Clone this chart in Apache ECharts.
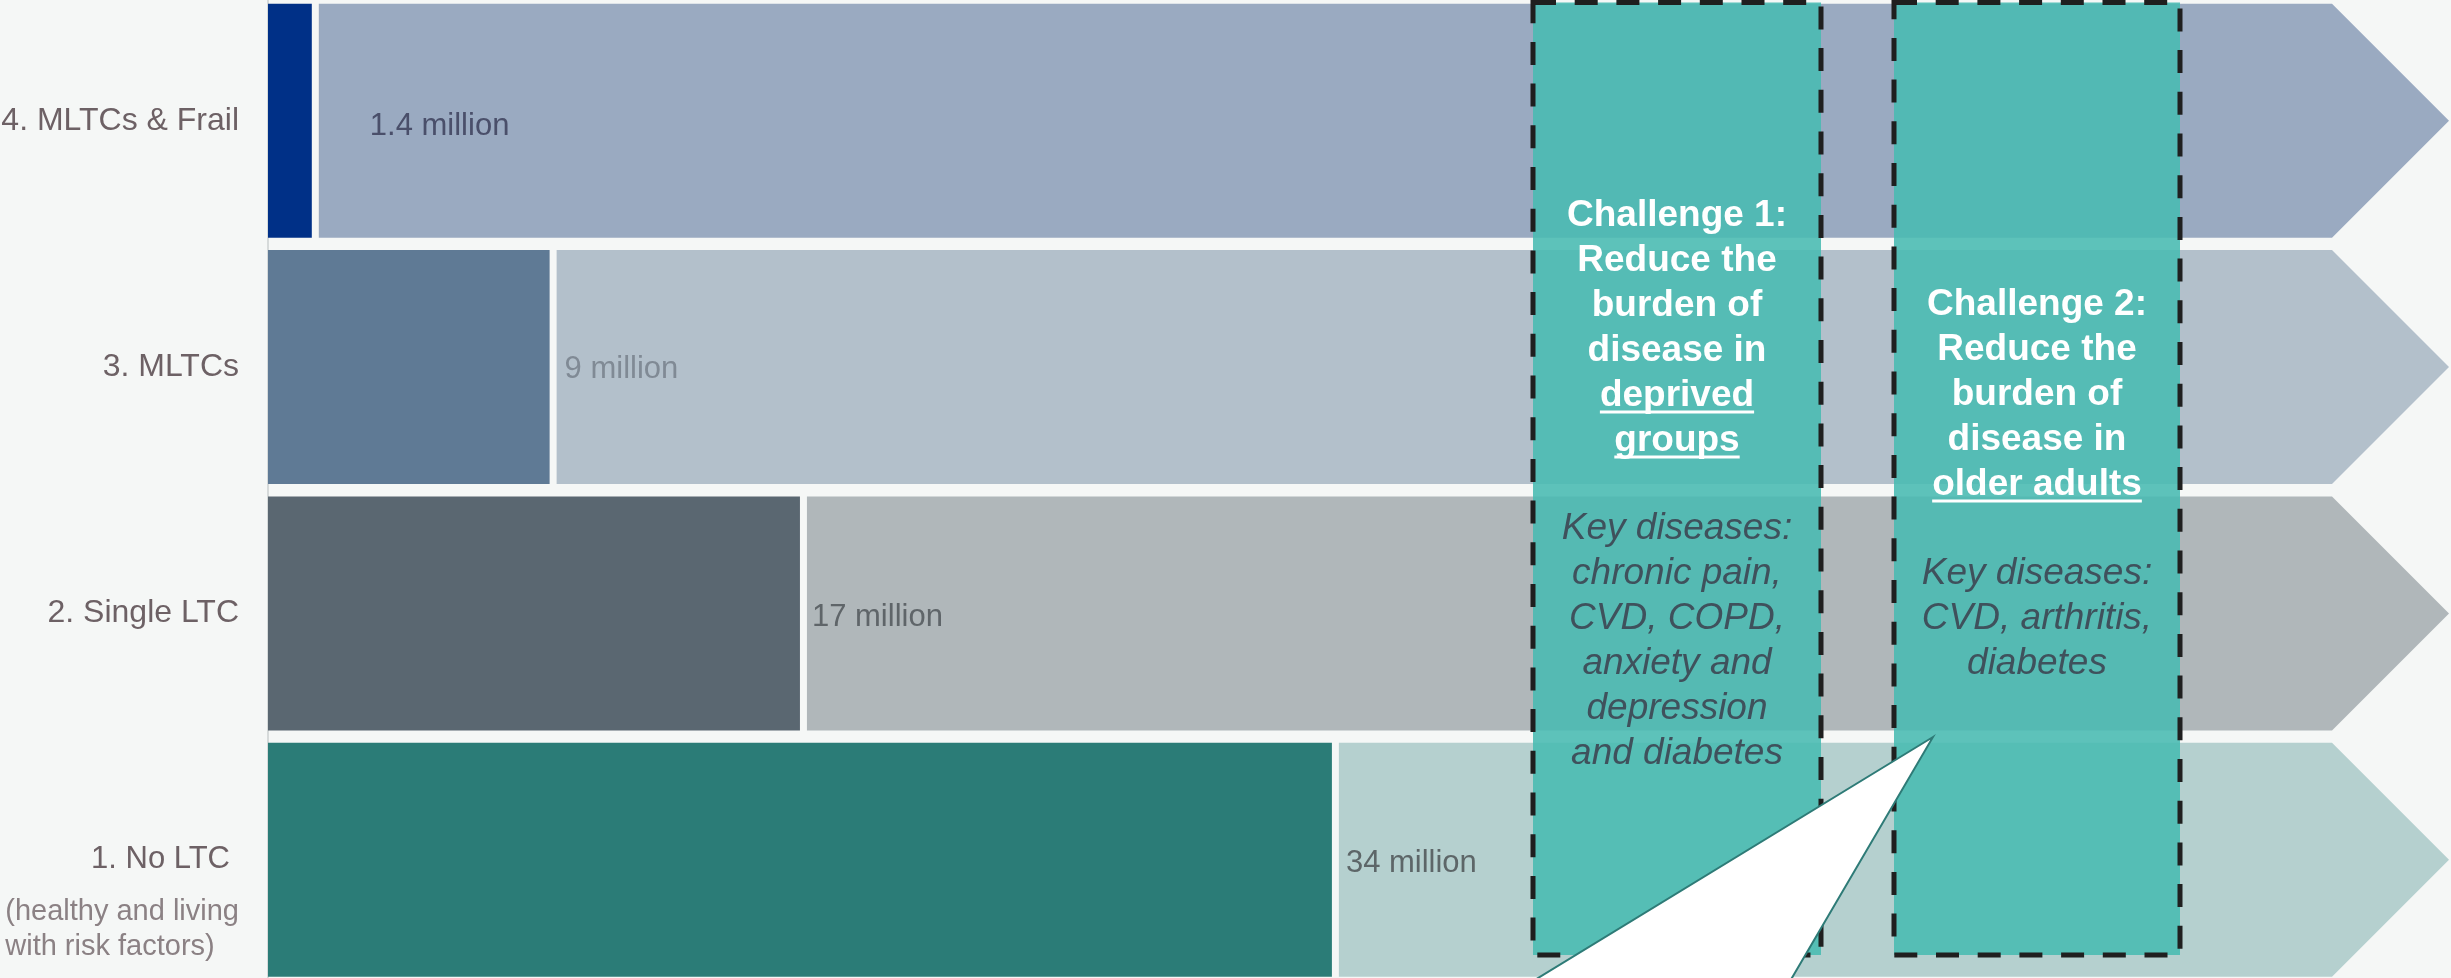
<!DOCTYPE html>
<html>
<head>
<meta charset="utf-8">
<title>Population by long-term condition group</title>
<script src="https://cdn.jsdelivr.net/npm/echarts@6/dist/echarts.min.js"></script>
<style>
  html, body { margin: 0; padding: 0; background: #f5f7f6; }
  #chart { width: 2451px; height: 978px; }
</style>
</head>
<body>
<div id="chart"></div>
<script>
// Groups, bottom to top, and the number of people in each (millions)
const CATEGORIES = ['1. No LTC', '2. Single LTC', '3. MLTCs', '4. MLTCs & Frail'];
const POPULATION_MILLIONS = [34, 17, 9, 1.4];
const CATEGORY_NOTES = { '1. No LTC': ['(healthy and living', 'with risk factors)'] };

// Challenge panels
const CHALLENGE_1_TITLE = ['Challenge 1:', 'Reduce the', 'burden of', 'disease in', 'deprived', 'groups'];
const CHALLENGE_1_UNDERLINED = ['deprived', 'groups'];
const CHALLENGE_1_DISEASES = ['Key diseases:', 'chronic pain,', 'CVD, COPD,', 'anxiety and', 'depression', 'and diabetes'];
const CHALLENGE_2_TITLE = ['Challenge 2:', 'Reduce the', 'burden of', 'disease in', 'older adults'];
const CHALLENGE_2_UNDERLINED = ['older adults'];
const CHALLENGE_2_DISEASES = ['Key diseases:', 'CVD, arthritis,', 'diabetes'];

// Per-row look
const ROW_STYLE = {
  '1. No LTC':        { dark: '#2b7c77', light: '#b5d0cf', label: '#5d6668', inset: 7,  dy: 4 },
  '2. Single LTC':    { dark: '#5a6771', light: '#b0b7ba', label: '#5f6569', inset: 5,  dy: 4 },
  '3. MLTCs':         { dark: '#5f7a95', light: '#b3c0cb', label: '#808a95', inset: 8,  dy: 2 },
  '4. MLTCs & Frail': { dark: '#003087', light: '#9aaac1', label: '#4a4f6a', inset: 51, dy: 6 }
};

const FONT = '"Liberation Sans", Arial, Helvetica, sans-serif';
const LABEL_COLOR = '#6d6165';
const NOTE_COLOR = '#8b8184';

const chart = echarts.init(document.getElementById('chart'), null, { renderer: 'canvas' });

// Arrow body following each bar, running to the right edge of the grid
function renderArrow(params, api) {
  const v = api.value(0);
  const idx = api.value(1);
  const name = CATEGORIES[idx];
  const st = ROW_STYLE[name];
  const end = api.coord([v, idx]);
  const band = api.size([0, 1])[1];
  const h = band * 0.95;
  const cs = params.coordSys;
  const tipX = cs.x + cs.width;
  const bodyEnd = tipX - h / 2;
  const x0 = end[0] + 7;
  const yTop = end[1] - h / 2;
  const yBot = end[1] + h / 2;
  return {
    type: 'group',
    children: [
      {
        type: 'polygon',
        shape: { points: [[x0, yTop], [bodyEnd, yTop], [tipX, end[1]], [bodyEnd, yBot], [x0, yBot]] },
        style: { fill: st.light }
      },
      {
        type: 'text',
        x: x0 + st.inset,
        y: end[1] + st.dy,
        style: {
          text: v + ' million',
          fill: st.label,
          fontSize: 31,
          fontFamily: FONT,
          align: 'left',
          verticalAlign: 'middle'
        }
      }
    ]
  };
}

// Text measuring for underlines
const measureCtx = document.createElement('canvas').getContext('2d');
function textWidth(str, font) {
  measureCtx.font = font;
  return measureCtx.measureText(str).width;
}

function challengePanel(box, title, underlined, diseases) {
  const lineH = 45;
  const lines = [];
  title.forEach(t => lines.push({ text: t, kind: 'title' }));
  lines.push({ text: '', kind: 'blank' });
  diseases.forEach(t => lines.push({ text: t, kind: 'disease' }));
  const n = lines.length;
  const cx = box.x + box.w / 2;
  const cy = box.textCenter;
  const titleFont = 'bold 37px ' + FONT;
  const children = [{
    type: 'rect',
    z: 100,
    shape: { x: box.x, y: box.top, width: box.w, height: box.bottom - box.top },
    style: {
      fill: 'rgba(72,187,178,0.88)',
      stroke: '#1f1f1f',
      lineWidth: 5,
      lineDash: [23, 18.7]
    }
  }];
  lines.forEach((ln, i) => {
    if (ln.kind === 'blank') return;
    const isTitle = ln.kind === 'title';
    const y = cy + (i - (n - 1) / 2) * lineH + (isTitle ? box.titleShift : 0);
    children.push({
      type: 'text',
      z: 101,
      x: cx,
      y: y,
      style: {
        text: ln.text,
        fill: isTitle ? '#ffffff' : '#3f515c',
        fontSize: 37,
        fontWeight: isTitle ? 'bold' : 'normal',
        fontStyle: isTitle ? 'normal' : 'italic',
        fontFamily: FONT,
        align: 'center',
        verticalAlign: 'middle'
      }
    });
    if (isTitle && underlined.indexOf(ln.text) >= 0) {
      const w = textWidth(ln.text, titleFont);
      children.push({
        type: 'line',
        z: 101,
        shape: { x1: cx - w / 2, y1: y + 16, x2: cx + w / 2, y2: y + 16 },
        style: { stroke: '#ffffff', lineWidth: 3 }
      });
    }
  });
  return { type: 'group', z: 100, children: children };
}

const option = {
  backgroundColor: '#f5f7f6',
  animation: false,
  grid: { left: 268, right: 2, top: -2.5, height: 985.5, outerBoundsMode: 'none', containLabel: false },
  xAxis: {
    type: 'value',
    min: 0,
    max: 69.7,
    show: false
  },
  yAxis: {
    type: 'category',
    data: CATEGORIES,
    axisTick: { show: false },
    axisLine: { show: true, lineStyle: { color: '#d6dada', width: 2 } },
    splitLine: { show: false },
    axisLabel: {
      margin: 29,
      fontFamily: FONT,
      formatter: function (name) {
        const notes = CATEGORY_NOTES[name];
        if (!notes) return '{m|' + name + '}';
        return ['{g| }', '{m1|' + name + '}'].concat(notes.map(t => '{s|' + t + '}')).join('\n');
      },
      rich: {
        m: { fontSize: 32, color: LABEL_COLOR, fontFamily: FONT },
        g: { fontSize: 10, lineHeight: 70 },
        m1: { fontSize: 31, lineHeight: 69, color: LABEL_COLOR, fontFamily: FONT, align: 'right', padding: [0, 9, 0, 0] },
        s: { fontSize: 29, lineHeight: 35, color: NOTE_COLOR, fontFamily: FONT, align: 'left' }
      }
    }
  },
  series: [
    {
      type: 'bar',
      barWidth: '95%',
      data: POPULATION_MILLIONS.map((v, i) => ({
        value: v,
        itemStyle: { color: ROW_STYLE[CATEGORIES[i]].dark }
      })),
      z: 3
    },
    {
      type: 'custom',
      renderItem: renderArrow,
      data: POPULATION_MILLIONS.map((v, i) => [v, i]),
      z: 2
    }
  ],
  graphic: [
    challengePanel({ x: 1533, w: 288, top: 2.5, bottom: 955, textCenter: 484, titleShift: 2 },
      CHALLENGE_1_TITLE, CHALLENGE_1_UNDERLINED, CHALLENGE_1_DISEASES),
    challengePanel({ x: 1894, w: 286, top: 2.5, bottom: 955, textCenter: 484, titleShift: 1 },
      CHALLENGE_2_TITLE, CHALLENGE_2_UNDERLINED, CHALLENGE_2_DISEASES),
    {
      // speech-bubble pointer rising from below the chart
      type: 'polygon',
      z: 110,
      shape: { points: [[1933, 737], [1502, 1000], [1779, 1000]] },
      style: { fill: '#ffffff', stroke: '#2e7b77', lineWidth: 2 }
    }
  ]
};

chart.setOption(option);
</script>
</body>
</html>
